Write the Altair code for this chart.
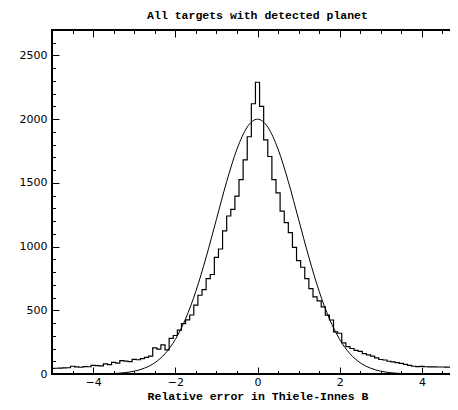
import altair as alt
import pandas as pd

# Histogram: bin centres (width 0.1) and counts
counts = [
    43, 45, 46, 48, 49, 61, 56, 53, 58, 57,          # -5.0 .. -4.1
    68, 66, 63, 79, 74, 91, 86, 105, 101, 97,        # -4.0 .. -3.1
    115, 112, 120, 131, 140, 205, 196, 228, 190, 280,  # -3.0 .. -2.1
    302, 345, 395, 425, 463, 540, 618, 662, 748, 781,  # -2.0 .. -1.1
    916, 981, 1124, 1240, 1292, 1396, 1526, 1681, 1862, 2121,  # -1.0 .. -0.1
    2290,                                            # 0.0
    2100, 1837, 1707, 1526, 1422, 1279, 1188, 1110, 994, 890,  # 0.1 .. 1.0
    838, 748, 670, 605, 574, 527, 462, 424, 330, 320,  # 1.1 .. 2.0
    245, 215, 200, 186, 178, 160, 150, 140, 126, 114,  # 2.1 .. 3.0
    110, 100, 95, 90, 84, 75, 67, 61, 58, 60,        # 3.1 .. 4.0
    57, 56, 56, 55, 55, 54, 54, 53, 53, 52,          # 4.1 .. 5.0
]
bin_centers = [round(-5.0 + 0.1 * i, 1) for i in range(len(counts))]

# Smooth reference curve, every 0.25
curve_x = [round(-5.0 + 0.25 * i, 2) for i in range(41)]
curve_y = [0, 0, 0, 0, 1, 2, 4, 10, 22, 46, 88, 159, 271, 433, 649, 916, 1213, 1510, 1765, 1938,
           2000,
           1938, 1765, 1510, 1213, 916, 649, 433, 271, 159, 88, 46, 22, 10, 4, 2, 1, 0, 0, 0, 0]

x_major = [-4, -2, 0, 2, 4]
x_minor = [round(-5 + 0.5 * i, 1) for i in range(21)]
y_major = [0, 500, 1000, 1500, 2000, 2500]
y_minor = list(range(0, 2701, 100))

hist = pd.DataFrame({"x": bin_centers, "n": counts})
curve = pd.DataFrame({"x": curve_x, "n": curve_y})

xs = alt.Scale(domain=[-5, 5], nice=False, zero=False)
ys = alt.Scale(domain=[0, 2700], nice=False)

MAJ, MIN = 7, 3.5
LABEL_FONT = "DejaVu Sans"
TITLE_FONT = "Liberation Mono"


def axis(orient, values, size, labels=False, title=None):
    kw = dict(orient=orient, values=values, tickSize=size, offset=-size,
              domain=False, grid=False, labels=labels, ticks=True,
              tickColor="black", tickWidth=1, title=title)
    if labels:
        kw.update(labelFont=LABEL_FONT, labelFontSize=11, labelColor="black",
                  labelPadding=2 if orient == "bottom" else 5, format="d")
    if title:
        kw.update(titleFont=TITLE_FONT, titleFontSize=11.5, titleFontWeight="bold",
                  titleColor="black", titleBaseline="bottom", titleY=34)
    return alt.Axis(**kw)


hist_layer = alt.Chart(hist).mark_line(interpolate="step", color="black",
                                       strokeWidth=1.2, clip=True).encode(
    x=alt.X("x:Q", scale=xs, axis=axis("bottom", x_major, MAJ, True,
                                        "Relative error in Thiele-Innes B")),
    y=alt.Y("n:Q", scale=ys, axis=axis("left", y_major, MAJ, True)),
)

curve_layer = alt.Chart(curve).mark_line(interpolate="monotone", color="black",
                                         strokeWidth=1, clip=True).encode(
    x=alt.X("x:Q", scale=xs, axis=axis("bottom", x_minor, MIN)),
    y=alt.Y("n:Q", scale=ys, axis=axis("left", y_minor, MIN)),
)

top_major = alt.Chart(curve).mark_line(strokeOpacity=0, clip=True).encode(
    x=alt.X("x:Q", scale=xs, axis=axis("top", x_major, MAJ)),
    y=alt.Y("n:Q", scale=ys, axis=axis("right", y_major, MAJ)),
)

top_minor = alt.Chart(curve).mark_line(strokeOpacity=0, clip=True).encode(
    x=alt.X("x:Q", scale=xs, axis=axis("top", x_minor, MIN)),
    y=alt.Y("n:Q", scale=ys, axis=axis("right", y_minor, MIN)),
)

chart = alt.layer(hist_layer, curve_layer, top_major, top_minor).resolve_axis(
    x="independent", y="independent"
).properties(
    width=411,
    height=344,
    title=alt.TitleParams("All targets with detected planet", font=TITLE_FONT,
                          fontSize=11.5, fontWeight="bold", color="black",
                          anchor="middle", offset=8),
    padding={"left": 44, "top": 22, "right": -13, "bottom": 28},
    autosize=alt.AutoSizeParams(type="none"),
).configure_view(stroke="black", strokeWidth=2)

chart.save("out.html", embed_options={"renderer": "svg", "actions": False})
